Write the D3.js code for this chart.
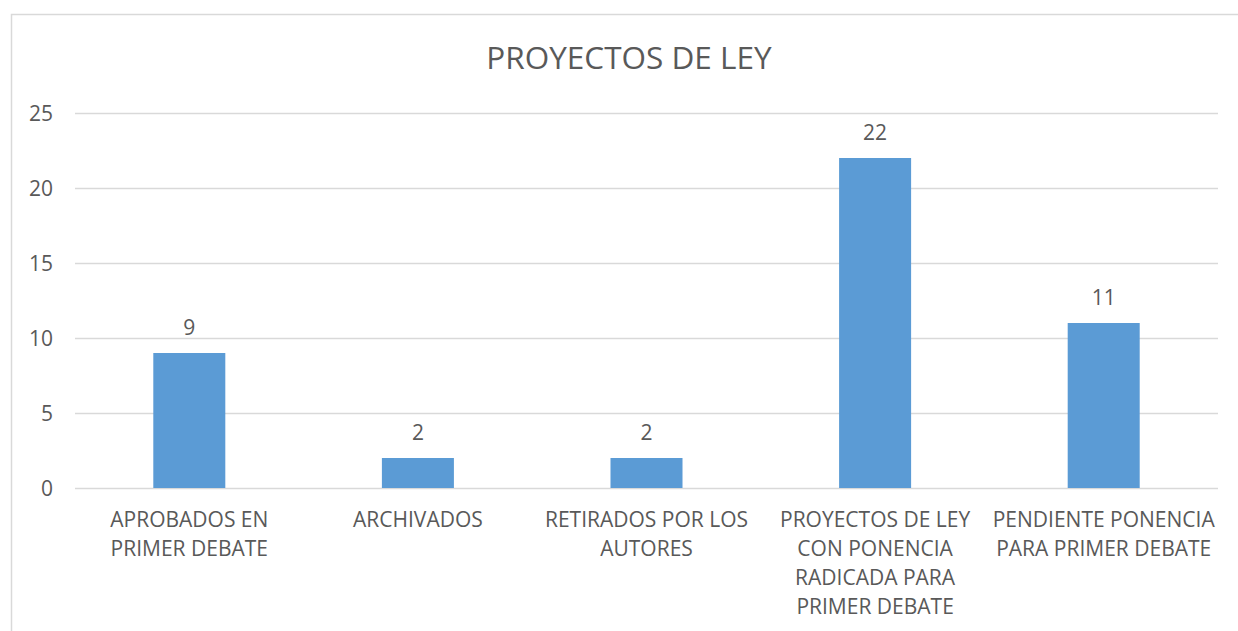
<!DOCTYPE html>
<html>
<head>
<meta charset="utf-8">
<script src="https://cdn.jsdelivr.net/npm/d3@7"></script>
<style>
  html, body { margin: 0; padding: 0; background: #fff; }
  svg { display: block; }
  text { font-family: "Open Sans", "DejaVu Sans", sans-serif; fill: #595959; }
</style>
</head>
<body>
<svg id="chart" width="1238" height="631"></svg>
<script>
const title = "PROYECTOS DE LEY";
const categories = [
  "APROBADOS EN\nPRIMER DEBATE",
  "ARCHIVADOS",
  "RETIRADOS POR LOS\nAUTORES",
  "PROYECTOS DE LEY\nCON PONENCIA\nRADICADA PARA\nPRIMER DEBATE",
  "PENDIENTE PONENCIA\nPARA PRIMER DEBATE"
];
const values = [9, 2, 2, 22, 11];
const yTicks = [0, 5, 10, 15, 20, 25];

const svg = d3.select("#chart");
const W = 1238, H = 631;
const m = { left: 75, right: 20, top: 113, bottom: 143 };
const plotRight = 1218;

// outer chart border
svg.append("rect")
  .attr("x", 11.5).attr("y", 14.5)
  .attr("width", W + 20).attr("height", H + 20)
  .attr("fill", "none").attr("stroke", "#D9D9D9").attr("stroke-width", 1.5);

const x = d3.scaleBand()
  .domain(categories)
  .range([m.left, plotRight])
  .paddingInner(0.685)
  .paddingOuter(0.3425);

const y = d3.scaleLinear().domain([0, 25]).range([488, 113]);

// gridlines
const grid = svg.append("g");
grid.selectAll("line").data(yTicks).join("line")
  .attr("x1", m.left).attr("x2", plotRight)
  .attr("y1", d => Math.round(y(d)) + 0.5).attr("y2", d => Math.round(y(d)) + 0.5)
  .attr("stroke", "#D9D9D9").attr("stroke-width", 1.3);

// y axis labels
const yAxis = d3.axisLeft(y).tickValues(yTicks).tickSize(0).tickPadding(0);
const ya = svg.append("g").attr("transform", "translate(53,0)").call(yAxis);
ya.select(".domain").remove();
ya.selectAll("text")
  .style("font-family", '"Open Sans", sans-serif')
  .style("font-size", "21px").attr("fill", "#595959").attr("dy", "0.35em");

// bars
svg.append("g").selectAll("rect").data(values).join("rect")
  .attr("x", (d, i) => x(categories[i]))
  .attr("width", x.bandwidth())
  .attr("y", d => y(d))
  .attr("height", d => y(0) - y(d))
  .attr("fill", "#5B9BD5");

// data labels
svg.append("g").selectAll("text").data(values).join("text")
  .attr("x", (d, i) => x(categories[i]) + x.bandwidth() / 2)
  .attr("y", d => y(d) - 18)
  .attr("text-anchor", "middle")
  .style("font-size", "21px")
  .text(d => d);

// category labels via axis
const xAxis = d3.axisBottom(x).tickSize(0).tickFormat(() => "");
const xa = svg.append("g").attr("transform", "translate(0,488)").call(xAxis);
xa.select(".domain").remove();
xa.selectAll(".tick").each(function(d) {
  const t = d3.select(this).select("text");
  t.attr("y", 0).attr("dy", null);
  d.split("\n").forEach((line, i) => {
    t.append("tspan").attr("x", 0).attr("y", 39 + i * 29).text(line);
  });
  t.style("font-family", '"Open Sans", sans-serif').style("font-size", "21px").attr("fill", "#595959");
});

// title
svg.append("text")
  .attr("x", 629).attr("y", 69)
  .attr("text-anchor", "middle")
  .style("font-size", "31.5px")
  .text(title);
</script>
</body>
</html>
